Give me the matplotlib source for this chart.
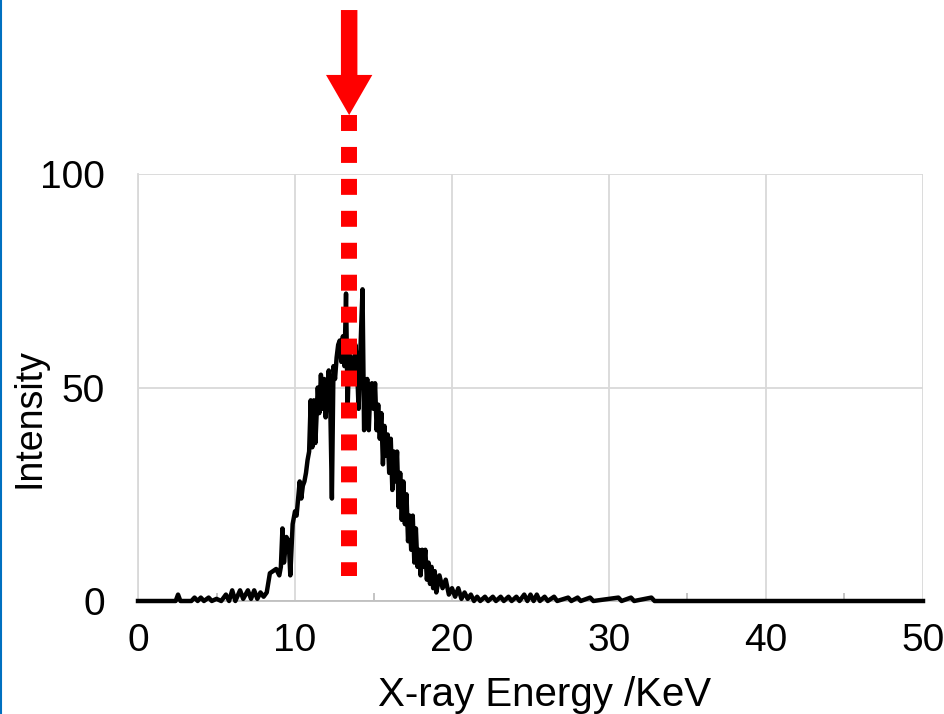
import matplotlib
matplotlib.use('Agg')
import matplotlib.pyplot as plt
from matplotlib.patches import FancyArrow
from matplotlib.lines import Line2D

plt.rcParams['font.family'] = ['Liberation Sans', 'DejaVu Sans']

# spectrum (keV, counts)
energy = [0, 2.4, 2.55, 2.7, 3.4, 3.6, 3.8, 4.0, 4.2, 4.5, 4.7, 5.0, 5.3, 5.6, 5.8, 6.0, 6.2, 6.5, 6.7,
          7.0, 7.2, 7.4, 7.6, 7.8, 8.0, 8.2, 8.4, 8.6, 8.8, 9.0, 9.1, 9.2, 9.3, 9.45, 9.6, 9.7, 9.85,
          10.0, 10.1, 10.2, 10.3, 10.4, 10.5, 10.6, 10.7, 10.8, 10.9, 11.0, 11.1, 11.2, 11.3, 11.45,
          11.55, 11.65, 11.75, 11.85, 11.95, 12.05, 12.15, 12.25, 12.35, 12.45, 12.55, 12.65, 12.75,
          12.85, 12.95, 13.05, 13.15, 13.25, 13.35, 13.45, 13.55, 13.65, 13.75, 13.85, 13.95, 14.05,
          14.15, 14.3, 14.4, 14.5, 14.6, 14.7, 14.8, 14.9, 15.0, 15.1, 15.2, 15.3, 15.4, 15.5, 15.6,
          15.7, 15.8, 15.9, 16.0, 16.1, 16.2, 16.3, 16.4, 16.5, 16.6, 16.7, 16.8, 16.9, 17.0, 17.1,
          17.2, 17.3, 17.4, 17.5, 17.6, 17.7, 17.8, 17.9, 18.0, 18.1, 18.2, 18.3, 18.4, 18.5, 18.6,
          18.7, 18.8, 18.9, 19.0, 19.2, 19.4, 19.6, 19.8, 20.0, 20.2, 20.4, 20.6, 20.8, 21.0, 21.2,
          21.4, 21.6, 21.8, 22.1, 22.3, 22.6, 22.8, 23.1, 23.3, 23.6, 23.8, 24.1, 24.3, 24.6, 24.8,
          25.0, 25.2, 25.4, 25.6, 25.9, 26.1, 26.5, 26.7, 27.4, 27.6, 28.0, 28.2, 28.8, 29.0, 30.6,
          30.8, 31.4, 31.6, 32.7, 32.9, 50]
intensity = [0, 0, 1.5, 0, 0, 0.8, 0, 0.8, 0, 0.8, 0, 0.5, 0, 1.5, 0, 2.5, 0, 2.5, 0.5,
             2.5, 0.5, 2.5, 0.5, 2, 1, 2, 6.5, 7, 7.5, 6, 8, 17, 9, 15, 14, 6, 18,
             21, 20, 24, 28, 24, 27, 28, 30, 33, 35, 47, 36, 47, 37, 50,
             44, 53, 45, 52, 43, 50, 54, 45, 24, 55, 52, 57, 60,
             61, 56, 62, 55, 72, 45, 58, 53, 57, 52, 60, 55, 45,
             57, 73, 40, 42, 52, 40, 50, 51, 45, 51, 40, 46, 38, 44, 32,
             41, 34, 39, 30, 38, 26, 35, 28, 35, 22, 30, 19, 28, 18, 25,
             14, 20, 12, 20, 9, 17, 8, 12, 6, 12, 8, 12, 5, 9, 4,
             8, 3, 7, 2, 6, 3, 5, 1.5, 3, 1, 3, 0.5, 2, 0.5, 1.5,
             0, 1, 0, 1, 0, 1, 0, 1, 0, 1, 0, 1, 0, 1.5, 0,
             1.5, 0, 1.5, 0, 1, 0, 1, 0, 0.8, 0, 0.8, 0, 0.8, 0, 0.8,
             0, 0.8, 0, 0.8, 0, 0]

x_ticks = [0, 10, 20, 30, 40, 50]
y_ticks = [0, 50, 100]
marker_energy = 13.45
marker_range = [113.8, 5.9]
arrow_top = 138.4

fig = plt.figure(figsize=(9.45, 7.14), dpi=100)
ax = fig.add_axes([138 / 945, 113 / 714, 785 / 945, 427 / 714])

ax.set_xlim(0, 50)
ax.set_ylim(0, 100)
ax.set_xticks(x_ticks)
ax.set_yticks(y_ticks)
ax.set_xticks([5, 15, 25, 35, 45], minor=True)
ax.grid(True, color='#d9d9d9', linewidth=1.3)
ax.set_axisbelow(True)
for s in ['top', 'right']:
    ax.spines[s].set_visible(False)
ax.spines['left'].set_color('#d9d9d9')
ax.spines['left'].set_linewidth(1.3)
ax.spines['bottom'].set_color('#bfbfbf')
ax.spines['bottom'].set_linewidth(1.3)
ax.tick_params(axis='both', which='major', length=0, labelsize=28, pad=16)
ax.tick_params(axis='x', which='minor', direction='in', length=6, color='#bfbfbf', width=1.3)
ax.tick_params(axis='y', pad=24)

ax.plot(energy, intensity, color='black', linewidth=3.2, solid_joinstyle='round', clip_on=False, zorder=3)

# red marker line and arrow
ln = Line2D([marker_energy, marker_energy], marker_range, color='#ff0000', linewidth=11.5,
            dashes=(1, 1), dash_capstyle='butt', clip_on=False, zorder=4)
ax.add_line(ln)
arr = FancyArrow(marker_energy, arrow_top, 0, -(arrow_top - marker_range[0]), width=1.05,
                 head_width=2.95, head_length=9.4, length_includes_head=True,
                 color='#ff0000', linewidth=0, clip_on=False, zorder=4)
ax.add_patch(arr)

fig.text(30 / 945, 1 - 418 / 714, 'Intensity', fontsize=27, rotation=90, ha='center', va='center')
fig.text(545 / 945, 1 - 695 / 714, 'X-ray Energy /KeV', fontsize=29, ha='center', va='center')

# blue frame edge on the left
fig.add_artist(Line2D([0.001, 0.001], [0, 1], color='#0070C0', linewidth=1.5, transform=fig.transFigure))

fig.savefig('out.png', dpi=100)
